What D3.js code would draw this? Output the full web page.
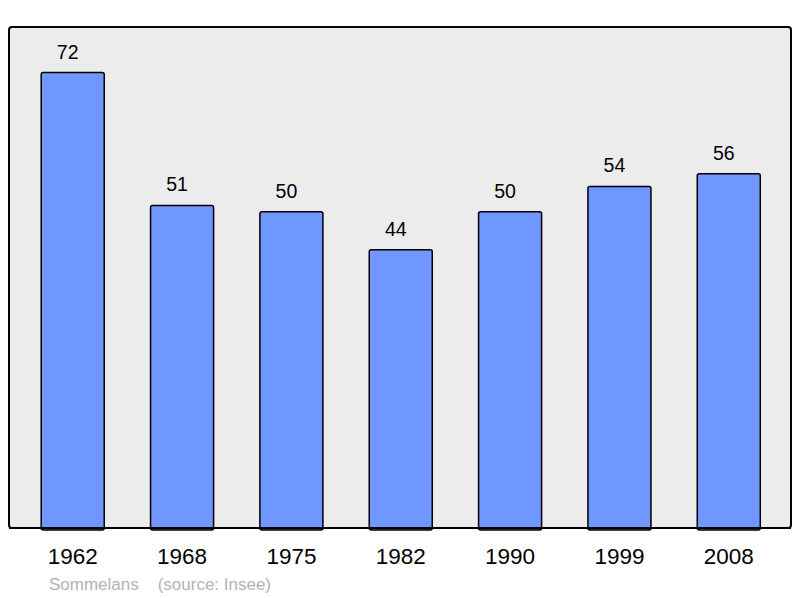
<!DOCTYPE html>
<html><head><meta charset="utf-8">
<script src="https://cdn.jsdelivr.net/npm/d3@7"></script>
<style>html,body{margin:0;padding:0;background:#fff;}svg{display:block;}</style>
</head><body>
<script>
const years = ["1962","1968","1975","1982","1990","1999","2008"];
const population = [72, 51, 50, 44, 50, 54, 56];
const commune = "Sommelans";
const source = "(source: Insee)";

const W = 800, H = 598;
const panel = {x0: 9, y0: 27, x1: 791, y1: 528};
const svg = d3.select("body").append("svg").attr("width", W).attr("height", H);

const x = d3.scaleBand().domain(years).range([9.5, 792]).paddingInner(0.4236).paddingOuter(0.29);
const y = d3.scaleLinear().domain([0, 79.2]).range([panel.y1, panel.y0]);

svg.append("rect").attr("x", panel.x0).attr("y", panel.y0)
  .attr("width", panel.x1 - panel.x0).attr("height", panel.y1 - panel.y0)
  .attr("rx", 3).attr("fill", "#ececec").attr("stroke", "#000").attr("stroke-width", 2);

const data = years.map((yr, i) => ({yr, v: population[i]}));

svg.selectAll("rect.bar").data(data).enter().append("rect").attr("class", "bar")
  .attr("x", d => x(d.yr)).attr("y", d => y(d.v))
  .attr("width", x.bandwidth()).attr("height", d => panel.y1 - y(d.v) + 2)
  .attr("rx", 2).attr("fill", "#7096ff").attr("stroke", "#000").attr("stroke-width", 1.5);

svg.append("line").attr("x1", panel.x0).attr("x2", panel.x1).attr("y1", panel.y1).attr("y2", panel.y1)
  .attr("stroke", "#000").attr("stroke-width", 2);

svg.selectAll("text.val").data(data).enter().append("text").attr("class", "val")
  .attr("x", d => x(d.yr) + x.bandwidth() / 2 - 5).attr("y", d => y(d.v) - 14)
  .attr("text-anchor", "middle").attr("font-family", "Liberation Sans, Arial, sans-serif")
  .attr("font-size", 19.5).attr("fill", "#000").text(d => d.v);

const xAxis = d3.axisBottom(x).tickSize(0).tickPadding(0);
const gx = svg.append("g").attr("transform", `translate(0,${panel.y1})`).call(xAxis);
gx.select(".domain").remove();
gx.selectAll("text").attr("dy", null).attr("y", 36)
  .attr("font-family", "Liberation Sans, Arial, sans-serif").attr("font-size", 22.5).attr("fill", "#000");

svg.append("text").attr("x", 49).attr("y", 590)
  .attr("font-family", "Liberation Sans, Arial, sans-serif").attr("font-size", 17).attr("fill", "#b3b3b3")
  .attr("xml:space", "preserve").text(commune + "    " + source);
</script>
</body></html>
